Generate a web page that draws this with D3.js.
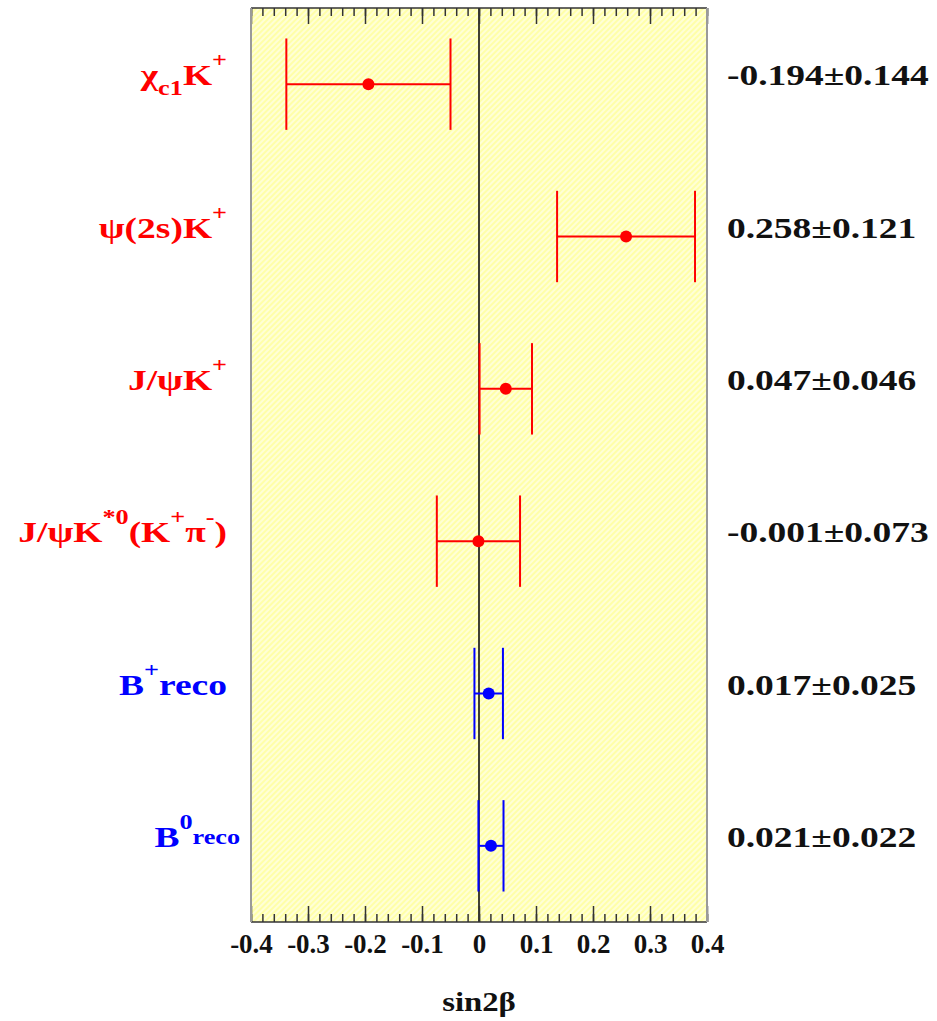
<!DOCTYPE html>
<html>
<head>
<meta charset="utf-8">
<script src="https://cdn.jsdelivr.net/npm/d3@7"></script>
<style>
  html, body { margin: 0; padding: 0; background: #ffffff; }
  svg { display: block; }
  text { font-family: "Liberation Serif", "Times New Roman", serif; font-weight: bold; }
</style>
</head>
<body>
<svg id="chart" width="937" height="1021"></svg>
<script>
// Decay channels (rich-text: ^{..} superscript, _{..} subscript)
const categories = [
  "χ_{c1}K^{+}",
  "ψ(2s)K^{+}",
  "J/ψK^{+}",
  "J/ψK^{*0}(K^{+}π^{-})",
  "B^{+}reco",
  "B^{0}_{reco}"
];
const values = [-0.194, 0.258, 0.047, -0.001, 0.017, 0.021];
const errors = [0.144, 0.121, 0.046, 0.073, 0.025, 0.022];
const sampleType = ["charmonium", "charmonium", "charmonium", "charmonium", "breco", "breco"];

const majorTicks = [-0.4, -0.3, -0.2, -0.1, 0, 0.1, 0.2, 0.3, 0.4];
const majorTickLabels = ["-0.4", "-0.3", "-0.2", "-0.1", "0", "0.1", "0.2", "0.3", "0.4"];
const minorTicks = d3.range(-20, 21).map(i => i / 50);
const axisTitle = "sin2β";

const colorOf = { charmonium: "#ff0000", breco: "#0000ff" };

const svg = d3.select("#chart");
const frame = { left: 251, right: 707, top: 8, bottom: 922 };

const x = d3.scaleLinear().domain([-0.4, 0.4]).range([frame.left, frame.right]);
const y = d3.scaleBand().domain(categories).range([frame.top, frame.bottom]).padding(0);
const cy = c => y(c) + y.bandwidth() / 2;
const capHalf = y.bandwidth() * 0.3;

// Hatched pale-yellow plot background
const defs = svg.append("defs");
const pat = defs.append("pattern")
  .attr("id", "hatch").attr("patternUnits", "userSpaceOnUse")
  .attr("width", 4).attr("height", 4)
  .attr("patternTransform", "rotate(45)");
pat.append("rect").attr("width", 4).attr("height", 4).attr("fill", "#ffffa8");
pat.append("rect").attr("width", 2).attr("height", 4).attr("fill", "#ffffd6");

svg.append("rect")
  .attr("x", frame.left).attr("y", frame.top)
  .attr("width", frame.right - frame.left).attr("height", frame.bottom - frame.top)
  .attr("fill", "url(#hatch)");

// Zero line
svg.append("line")
  .attr("x1", x(0)).attr("x2", x(0))
  .attr("y1", frame.top).attr("y2", frame.bottom)
  .attr("stroke", "#111").attr("stroke-width", 1.6);

// Ticks on top and bottom edges, pointing inward
function tickAxis(gen, yPos, values, size, labels) {
  const g = svg.append("g").attr("transform", `translate(0,${yPos})`)
    .call(gen(x).tickValues(values).tickSize(size).tickPadding(12)
      .tickFormat(labels ? (d, i) => labels[i] : ""));
  g.select(".domain").remove();
  g.selectAll(".tick line").attr("stroke", "#333").attr("stroke-width", 1.5);
  return g;
}
tickAxis(d3.axisTop, frame.top, minorTicks, -8);
tickAxis(d3.axisTop, frame.top, majorTicks, -16);
tickAxis(d3.axisBottom, frame.bottom, minorTicks, -8);
const bottomAxis = tickAxis(d3.axisBottom, frame.bottom, majorTicks, -16, majorTickLabels);
bottomAxis.selectAll(".tick text")
  .attr("font-size", 27).attr("fill", "#111")
  .attr("font-family", "'Liberation Serif', serif").attr("font-weight", "bold");

// Frame
svg.append("line").attr("x1", frame.left).attr("x2", frame.right)
  .attr("y1", frame.top).attr("y2", frame.top).attr("stroke", "#333").attr("stroke-width", 1.5);
svg.append("line").attr("x1", frame.left).attr("x2", frame.right)
  .attr("y1", frame.bottom).attr("y2", frame.bottom).attr("stroke", "#333").attr("stroke-width", 1.5);
svg.append("line").attr("x1", frame.left).attr("x2", frame.left)
  .attr("y1", frame.top).attr("y2", frame.bottom).attr("stroke", "#9a9a9a").attr("stroke-width", 2);
svg.append("line").attr("x1", frame.right).attr("x2", frame.right)
  .attr("y1", frame.top).attr("y2", frame.bottom).attr("stroke", "#9a9a9a").attr("stroke-width", 2);

// Error bars with caps and central points
const rows = categories.map((c, i) => ({ c, v: values[i], e: errors[i], color: colorOf[sampleType[i]] }));
const marks = svg.append("g").selectAll("g").data(rows).join("g");
marks.append("line")
  .attr("x1", d => x(d.v - d.e)).attr("x2", d => x(d.v + d.e))
  .attr("y1", d => cy(d.c)).attr("y2", d => cy(d.c))
  .attr("stroke", d => d.color).attr("stroke-width", 2);
[d => d.v - d.e, d => d.v + d.e].forEach(end => {
  marks.append("line")
    .attr("x1", d => x(end(d))).attr("x2", d => x(end(d)))
    .attr("y1", d => cy(d.c) - capHalf).attr("y2", d => cy(d.c) + capHalf)
    .attr("stroke", d => d.color).attr("stroke-width", 2);
});
marks.append("circle")
  .attr("cx", d => x(d.v)).attr("cy", d => cy(d.c)).attr("r", 6)
  .attr("fill", d => d.color);

// Rich-text channel labels
const mainSize = 30, scriptSize = 21, stretch = 1.25;
function parseRich(s) {
  const out = [];
  const re = /\^\{([^}]*)\}|_\{([^}]*)\}|([^^_]+)/g;
  let m;
  while ((m = re.exec(s))) {
    if (m[1] !== undefined) out.push({ t: m[1], kind: "sup" });
    else if (m[2] !== undefined) out.push({ t: m[2], kind: "sub" });
    else out.push({ t: m[3], kind: "base" });
  }
  return out;
}

const labelRight = 227;
rows.forEach(r => {
  const segs = parseRich(r.c);
  const g = svg.append("g")
    .attr("transform", `translate(${labelRight},${cy(r.c) + 1}) scale(${stretch},1)`);
  const t = g.append("text").attr("fill", r.color).attr("font-size", mainSize);
  let cur = 0;
  const spans = segs.map((s, i) => {
    let target = 0;
    if (s.kind === "sup") target = -18;
    if (s.kind === "sub") target = (i > 0 && segs[i - 1].kind === "sup") ? -3 : 10;
    const sp = t.append("tspan")
      .attr("font-size", s.kind === "base" ? mainSize : scriptSize)
      .attr("dy", target - cur)
      .text(s.t);
    cur = target;
    return sp;
  });
  // a superscript directly followed by a subscript counts as stacked for alignment
  let width = 0;
  spans.forEach((sp, i) => {
    const w = sp.node().getComputedTextLength();
    const stacked = segs[i].kind === "sup" && segs[i + 1] && segs[i + 1].kind === "sub";
    if (!stacked) width += w;
  });
  t.attr("x", -width);
});

// Measured values
const fmt = d3.formatLocale({ decimal: ".", thousands: ",", grouping: [3], currency: ["", ""], minus: "-" }).format(".3f");
const valueLeft = 727;
rows.forEach(r => {
  svg.append("g")
    .attr("transform", `translate(${valueLeft},${cy(r.c) + 1}) scale(${stretch},1)`)
    .append("text")
    .attr("font-size", mainSize).attr("fill", "#111")
    .text(`${fmt(r.v)}±${fmt(r.e)}`);
});

// Axis title
svg.append("g")
  .attr("transform", `translate(${x(0)},1011) scale(1.17,1)`)
  .append("text")
  .attr("text-anchor", "middle").attr("font-size", 28).attr("fill", "#111")
  .text(axisTitle);
</script>
</body>
</html>
